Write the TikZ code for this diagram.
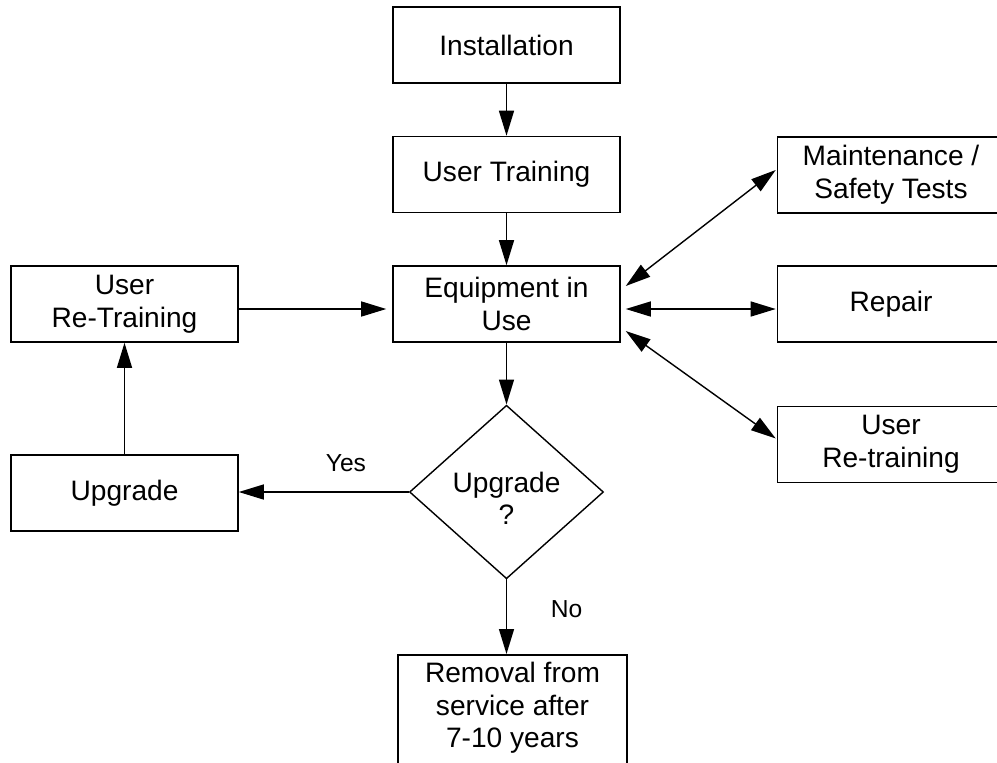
\documentclass[tikz,border=0pt]{standalone}
\usepackage{fontspec}
\setmainfont{Liberation Sans}
\usetikzlibrary{arrows.meta,shapes.geometric}

\begin{document}
\begin{tikzpicture}[x=0.02cm,y=-0.02cm,
  font=\fontsize{16}{18.7}\selectfont,
  box/.style={draw,line width=0.9pt,minimum width=4.54cm,minimum height=1.52cm,align=center,inner sep=0pt},
  decision/.style={draw,diamond,line width=0.8pt,minimum width=3.88cm,minimum height=3.44cm,align=center,inner sep=0pt},
  flow/.style={line width=0.8pt,-{Triangle[length=0.5cm,width=0.3cm]}},
  both/.style={line width=0.8pt,{Triangle[length=0.5cm,width=0.3cm]}-{Triangle[length=0.5cm,width=0.3cm]}},
  lab/.style={font=\fontsize{14}{16}\selectfont}]
  \useasboundingbox (0,0) rectangle (997,762);

  % main column
  \node[box] (inst)  at (506.5,45)    {Installation};
  \node[box] (train) at (506.5,174.5) {User Training};
  \node[box] (equip) at (506.5,304)   {Equipment in\\Use};
  \node[decision] (dec) at (506.5,492) {\mbox{}\\Upgrade\\?};
  \node[box,minimum width=4.58cm,minimum height=0pt,inner ysep=4pt,anchor=north] (remove) at (512.5,654)
    {Removal from\\service after\\7-10 years\\\mbox{}};

  % left side
  \node[box] (retrain) at (124.5,304) {User\\Re-Training};
  \node[box] (upg)     at (124.5,493) {Upgrade};

  % right side
  \node[box] (maint)  at (891,175)   {Maintenance /\\Safety Tests};
  \node[box] (repair) at (891,304)   {Repair};
  \node[box] (rtr)    at (891,444.5) {User\\Re-training};

  \draw[flow] (inst) -- (train);
  \draw[flow] (train) -- (equip);
  \draw[flow] (equip) -- (dec);
  \draw[flow] (dec.west) -- (dec.west -| upg.east) node[lab,pos=0.37,yshift=0.58cm] (yes) {Yes};
  \draw[flow] (dec.south) -- (dec.south |- remove.north) node[lab,pos=0.4,xshift=1.2cm] (no) {No};
  \draw[flow] (upg) -- (retrain);
  \draw[flow] ([shift={(0,5)}]retrain.east) -- ([shift={(-6,5)}]equip.west);

  \draw[both] ([shift={(5,-18)}]equip.east) -- ([shift={(-1,-5)}]maint.west);
  \draw[both] ([shift={(5,5)}]equip.east) -- ([shift={(-1,5)}]repair.west);
  \draw[both] ([shift={(5,27)}]equip.east) -- ([shift={(-1,-6)}]rtr.west);
\end{tikzpicture}
\end{document}
